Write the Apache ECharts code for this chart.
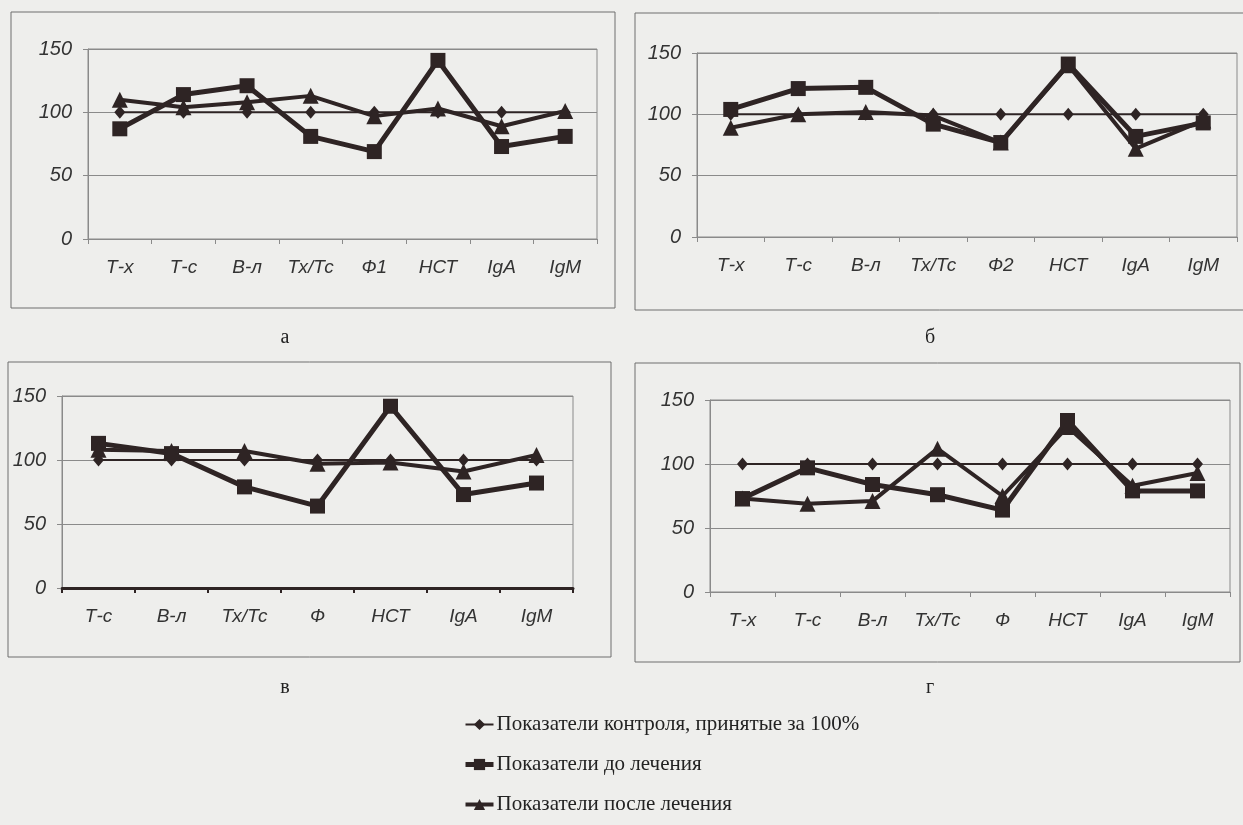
<!DOCTYPE html>
<html>
<head>
<meta charset="utf-8">
<script src="https://cdn.jsdelivr.net/npm/echarts@6/dist/echarts.min.js"></script>
<style>
html,body{margin:0;padding:0;background:#eeeeec;}
#c{width:1243px;height:825px;}
</style>
</head>
<body>
<div id="c"></div>
<script>
// ---- data ----
const categoriesA = ['Т-х','Т-с','В-л','Тх/Тс','Ф1','НСТ','IgA','IgM'];
const controlA = [100,100,100,100,100,100,100,100];
const beforeA  = [87,114,121,81,69,141,73,81];
const afterA   = [110,104,108,113,97,103,89,101];

const categoriesB = ['Т-х','Т-с','В-л','Тх/Тс','Ф2','НСТ','IgA','IgM'];
const controlB = [100,100,100,100,100,100,100,100];
const beforeB  = [104,121,122,92,77,141,82,93];
const afterB   = [89,100,102,99,77,140,72,95];

const categoriesV = ['Т-с','В-л','Тх/Тс','Ф','НСТ','IgA','IgM'];
const controlV = [100,100,100,100,100,100,100];
const beforeV  = [113,105,79,64,142,73,82];
const afterV   = [108,107,107,97,98,91,104];

const categoriesG = ['Т-х','Т-с','В-л','Тх/Тс','Ф','НСТ','IgA','IgM'];
const controlG = [100,100,100,100,100,100,100,100];
const beforeG  = [73,97,84,76,64,134,79,79];
const afterG   = [73,69,71,112,75,129,83,93];

const yTicks = [0,50,100,150];
const panelLabels = ['а','б','в','г'];
const seriesNames = ['Показатели контроля, принятые за 100%','Показатели до лечения','Показатели после лечения'];

// ---- styling ----
const ink = '#2e2424';
const gridColor = '#8a8a8a';
const grids = [
  {left:88,  top:49,  width:509, height:190},
  {left:697, top:53,  width:540, height:184},
  {left:62,  top:396, width:511, height:192},
  {left:710, top:400, width:520, height:192}
];
const cats = [categoriesA, categoriesB, categoriesV, categoriesG];
const data = [
  [controlA, beforeA, afterA],
  [controlB, beforeB, afterB],
  [controlV, beforeV, afterV],
  [controlG, beforeG, afterG]
];
const widths = [2, 5, 4];
const symbols = ['diamond', 'rect', 'triangle'];
const sizes = [[11,13], 15, 16];

const xAxis = cats.map((c,i)=>({
  type:'category', gridIndex:i, data:c, boundaryGap:true,
  axisLine:{show:true, lineStyle:{color: i===2 ? ink : gridColor, width: i===2 ? 3 : 1}},
  axisTick:{show:true, length:5, lineStyle:{color: i===2 ? ink : gridColor, width: i===2 ? 2 : 1}},
  axisLabel:{color:'#333', fontFamily:'Liberation Sans', fontStyle:'italic', fontSize:19, margin:19}
}));
const yAxis = grids.map((g,i)=>({
  type:'value', gridIndex:i, min:0, max:150, interval:50,
  axisLine:{show:true, lineStyle:{color:gridColor, width:1}},
  axisTick:{show:true, length:5, lineStyle:{color:gridColor}},
  splitLine:{show:true, lineStyle:{color:gridColor, width:1}},
  axisLabel:{color:'#333', fontFamily:'Liberation Sans', fontStyle:'italic', fontSize:20, margin:16,
    formatter:v=> yTicks.includes(v) ? String(v) : ''}
}));

const series = [];
data.forEach((d,i)=>{
  for (let k=0;k<3;k++){
    series.push({
      name:seriesNames[k], type:'line', xAxisIndex:i, yAxisIndex:i, data:d[k],
      symbol:symbols[k], symbolSize:sizes[k], z:2+k,
      lineStyle:{color:ink, width:widths[k]}, itemStyle:{color:ink}
    });
  }
});

const frames = [
  {x:11, y:12, w:604, h:296},
  {x:635, y:13, w:615, h:297},
  {x:8, y:362, w:603, h:295},
  {x:635, y:363, w:605, h:299}
];
const labelPos = [[285,338],[930,338],[285,688],[930,688]];
const graphic = [];
frames.forEach(f=>graphic.push({type:'rect', shape:{x:f.x,y:f.y,width:f.w,height:f.h}, silent:true,
  style:{fill:'none', stroke:'#6e6e6e', lineWidth:1}, z:-1}));
panelLabels.forEach((t,i)=>graphic.push({type:'text', x:labelPos[i][0], y:labelPos[i][1],
  style:{text:t, font:'20px "Liberation Serif"', fill:'#222', textAlign:'center', textVerticalAlign:'middle'}}));

const chart = echarts.init(document.getElementById('c'), null, {renderer:'canvas'});
chart.setOption({
  backgroundColor:'#eeeeec',
  animation:false,
  grid: grids.map(g=>Object.assign({show:true, borderColor:gridColor, borderWidth:1, backgroundColor:'transparent'}, g)),
  xAxis, yAxis, series, graphic,
  legend:{
    orient:'vertical', left:458, top:709, itemGap:19, itemWidth:28, itemHeight:14,
    data:seriesNames.map((n,k)=>({name:n, lineStyle:{width:widths[k], color:ink}, itemStyle:{color:ink}})),
    textStyle:{fontFamily:'Liberation Serif', fontSize:21, color:'#222', padding:[0,0,0,-2]},
    selectedMode:false
  }
});
</script>
</body>
</html>
